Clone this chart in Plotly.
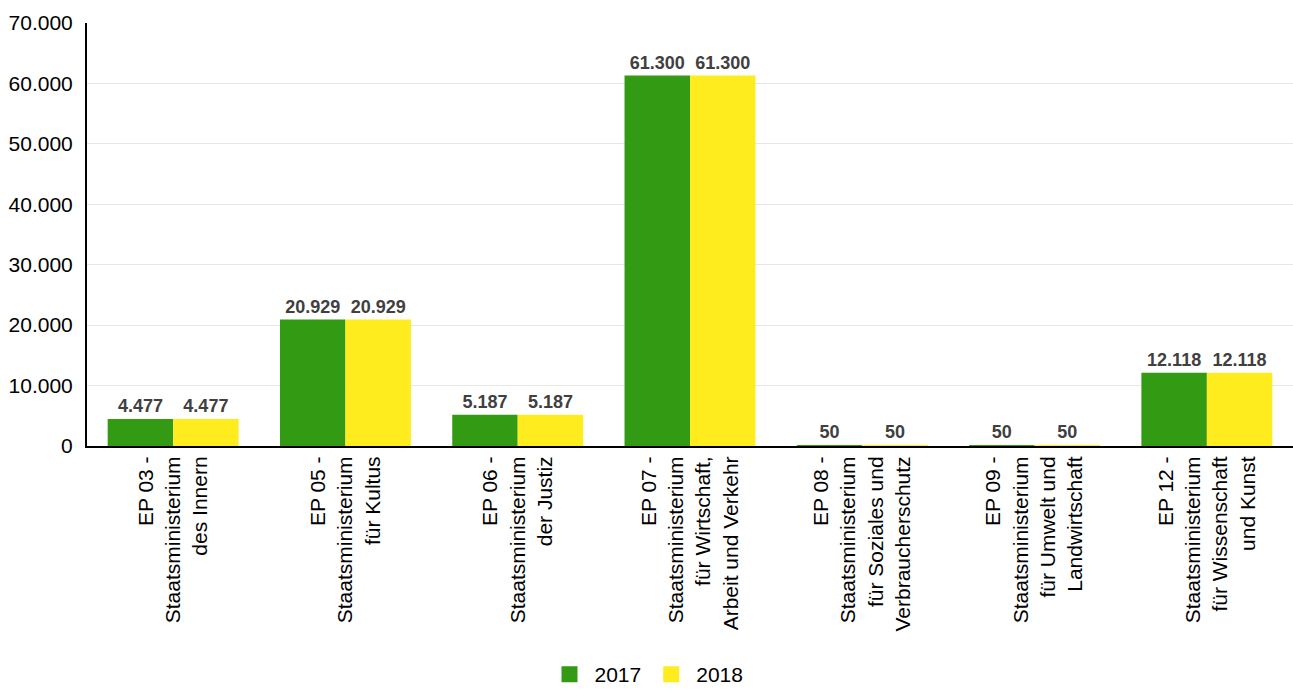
import plotly.graph_objects as go

categories = [
    "EP 03 -<br>Staatsministerium<br>des Innern",
    "EP 05 -<br>Staatsministerium<br>für Kultus",
    "EP 06 -<br>Staatsministerium<br>der Justiz",
    "EP 07 -<br>Staatsministerium<br>für Wirtschaft,<br>Arbeit und Verkehr",
    "EP 08 -<br>Staatsministerium<br>für Soziales und<br>Verbraucherschutz",
    "EP 09 -<br>Staatsministerium<br>für Umwelt und<br>Landwirtschaft",
    "EP 12 -<br>Staatsministerium<br>für Wissenschaft<br>und Kunst",
]
values_2017 = [4477, 20929, 5187, 61300, 50, 50, 12118]
values_2018 = [4477, 20929, 5187, 61300, 50, 50, 12118]
series_names = ["2017", "2018"]
colors = ["#339A14", "#FFEC1F"]

FONT = "Liberation Sans, Arial, sans-serif"

fig = go.Figure()
for name, vals, col in zip(series_names, [values_2017, values_2018], colors):
    fig.add_trace(go.Bar(
        x=categories, y=vals, name=name,
        marker=dict(color=col, line=dict(width=0)),
        texttemplate="%{y:,}", textposition="outside",
        textfont=dict(family=FONT, size=18, color="#404040", weight="bold"),
        cliponaxis=False, showlegend=False,
    ))
    fig.add_trace(go.Scatter(
        x=[None], y=[None], mode="markers", name=name,
        marker=dict(symbol="square", size=20, color=col),
    ))

fig.update_layout(
    width=1293, height=695,
    margin=dict(l=87, r=0, t=23, b=249),
    paper_bgcolor="white", plot_bgcolor="white",
    separators=",.",
    barmode="group", bargap=0.24, bargroupgap=0,
    font=dict(family=FONT, size=21, color="#000000"),
    legend=dict(
        orientation="h", xref="container", yref="container",
        x=0.5, xanchor="center", y=0.0, yanchor="bottom",
        font=dict(size=21), itemsizing="trace", itemwidth=40,
    ),
)
fig.update_yaxes(
    range=[0, 70000], dtick=10000, tickformat=",",
    showgrid=True, gridcolor="#E6E6E6", gridwidth=1,
    showline=True, linecolor="#000000", linewidth=2,
    zeroline=False, ticks="", ticklabelstandoff=8,
    tickfont=dict(size=21, color="#000000"), automargin=False,
)
fig.update_xaxes(
    tickangle=-90, showline=True, linecolor="#000000", linewidth=2,
    ticks="", showgrid=False,
    tickfont=dict(size=21, color="#000000"), automargin=False,
)

fig.write_html(
    "out.html",
    config={"displayModeBar": False},
    post_script="document.body.style.margin='0';document.body.style.overflow='hidden';",
)
